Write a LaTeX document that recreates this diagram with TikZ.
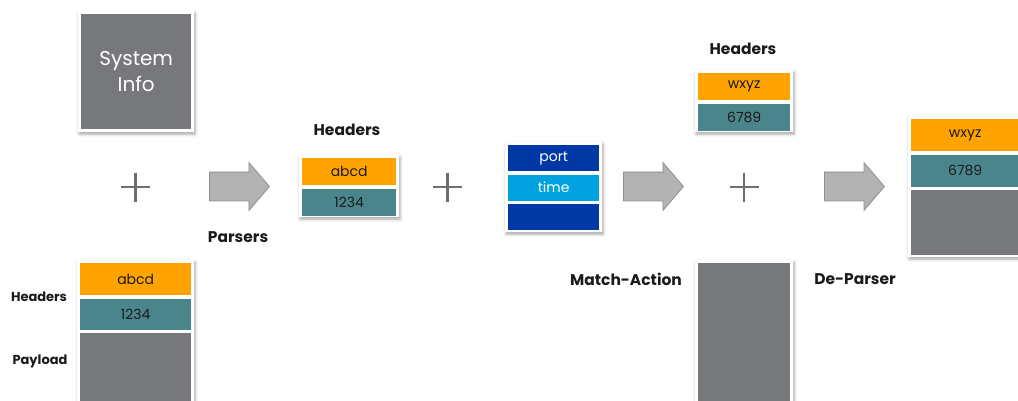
\documentclass[tikz,border=0pt]{standalone}
\usepackage{fontspec}
\setmainfont{Poppins}
\usetikzlibrary{positioning,shapes.arrows,shadows.blur}

\definecolor{hdrorange}{HTML}{FFA300}
\definecolor{hdrteal}{HTML}{4A858C}
\definecolor{boxgray}{HTML}{77787B}
\definecolor{metablue}{HTML}{0039A6}
\definecolor{metacyan}{HTML}{00A3E0}
\definecolor{arrowgray}{HTML}{B3B3B3}
\definecolor{plusgray}{HTML}{6D6E71}
\definecolor{labelblack}{HTML}{1A1A1A}

\begin{document}
\begin{tikzpicture}[x=1pt,y=-1pt,
  frame/.style={fill=white,inner sep=0pt,anchor=north west,
    blur shadow={shadow xshift=1pt,shadow yshift=-2pt,shadow blur radius=3pt,shadow opacity=35}},
  field/.style={fill=#1,inner sep=0pt,minimum height=27pt,
    font=\fontsize{14}{16}\selectfont,text=labelblack},
  title/.style={font=\fontsize{15.5}{18}\selectfont\bfseries,text=labelblack},
  side/.style={font=\fontsize{13}{15}\selectfont\bfseries,text=labelblack},
  stage/.style={single arrow,draw=arrowgray!80!black,line width=.8pt,fill=arrowgray,
    anchor=west,inner xsep=0pt,inner ysep=14pt,minimum height=60pt,
    single arrow head extend=9.5pt,single arrow head indent=0pt,single arrow tip angle=99},
  plus/.style={draw=plusgray,line width=2.5pt}]
  \useasboundingbox (0,0) rectangle (1018,400);

  % system info
  \node[frame,minimum width=116pt,minimum height=121pt] (sysframe) at (78,11) {};
  \node[fill=boxgray,inner sep=0pt,minimum width=110pt,minimum height=115pt,
    text=white,align=center,font=\fontsize{20}{26}\selectfont] (sysinfo) at (sysframe.center) {System\\Info};

  % incoming packet
  \node[frame,minimum width=117pt,minimum height=150pt] (pktframe) at (77,260) {};
  \node[field=hdrorange,minimum width=111pt,minimum height=32pt,below=3pt of pktframe.north] (pktname) {abcd};
  \node[field=hdrteal,minimum width=111pt,minimum height=31pt,below=3pt of pktname] (pktval) {1234};
  \node[field=boxgray,minimum width=111pt,minimum height=80pt,below=3pt of pktval] (pktload) {};
  \node[side] (pkthdrlbl) at (39,297) {Headers};
  \node[side] (pktloadlbl) at (40,361) {Payload};

  % the three plus signs
  \foreach \x in {135.5,447.5,744}
    \draw[plus] (\x-14.5,187) -- (\x+14.5,187) (\x,172.5) -- (\x,201.5);

  % parser
  \node[stage] (parse) at (209,186.5) {};
  \node[title] (parselbl) at (238,237) {Parsers};

  % parsed headers
  \node[frame,minimum width=100pt,minimum height=62pt] (hdrframe) at (299,155) {};
  \node[field=hdrorange,minimum width=94pt,below=3pt of hdrframe.north] (hdrname) {abcd};
  \node[field=hdrteal,minimum width=94pt,below=3pt of hdrname] (hdrval) {1234};
  \node[title] (hdrlbl) at (347,130) {Headers};

  % metadata
  \node[frame,minimum width=97pt,minimum height=90pt] (metaframe) at (505,142) {};
  \node[field=metablue,text=white,minimum width=91pt,minimum height=26pt,below=3pt of metaframe.north] (metaport) {port};
  \node[field=metacyan,text=white,minimum width=91pt,minimum height=26pt,below=3pt of metaport] (metatime) {time};
  \node[field=metablue,minimum width=91pt,minimum height=26pt,below=3pt of metatime] (metarest) {};

  % match-action
  \node[stage] (match) at (623,186.5) {};
  \node[title] (matchlbl) at (626,279) {Match-Action};
  \node[frame,minimum width=98pt,minimum height=150pt] (tblframe) at (695,260) {};
  \node[field=boxgray,minimum width=92pt,minimum height=145pt,below=3pt of tblframe.north] (tbl) {};

  % rewritten headers
  \node[frame,minimum width=98pt,minimum height=62pt] (newframe) at (695,70) {};
  \node[field=hdrorange,minimum width=92pt,below=3pt of newframe.north] (newname) {wxyz};
  \node[field=hdrteal,minimum width=92pt,below=3pt of newname] (newval) {6789};
  \node[title] (newlbl) at (743,49) {Headers};

  % de-parser and outgoing packet
  \node[stage] (deparse) at (824,186.5) {};
  \node[title] (deparselbl) at (855,279) {De-Parser};
  \node[frame,minimum width=114pt,minimum height=141pt] (outframe) at (908,116) {};
  \node[field=hdrorange,minimum width=108pt,minimum height=32pt,below=3pt of outframe.north] (outname) {wxyz};
  \node[field=hdrteal,minimum width=108pt,minimum height=32pt,below=3pt of outname] (outval) {6789};
  \node[field=boxgray,minimum width=108pt,minimum height=65pt,below=3pt of outval] (outload) {};
\end{tikzpicture}
\end{document}
